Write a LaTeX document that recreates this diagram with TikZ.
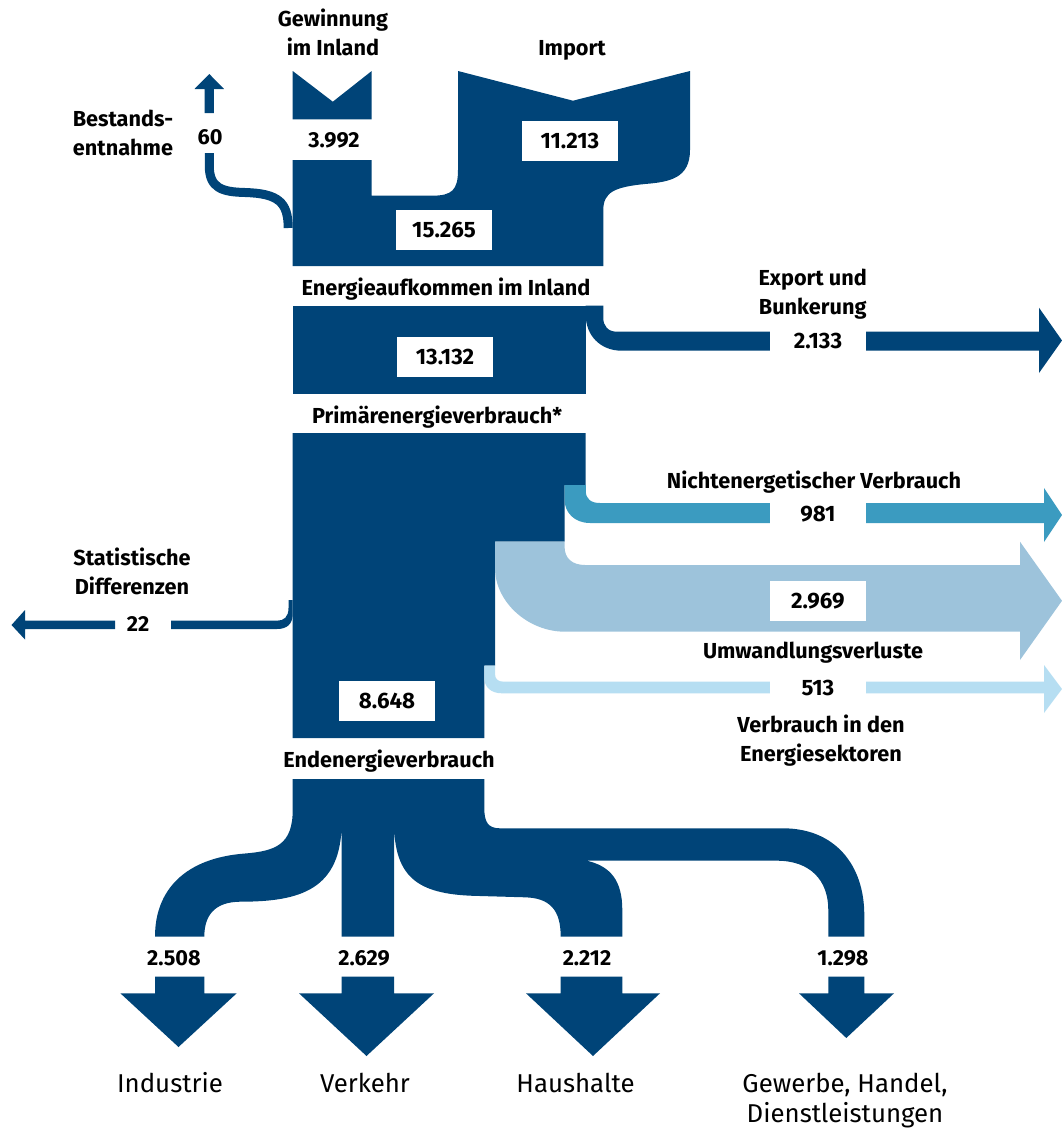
\documentclass[tikz,border=0pt]{standalone}
\usepackage{fontspec}
\setmainfont{Fira Sans}
\definecolor{cA}{RGB}{0,68,120}
\definecolor{cB}{RGB}{59,155,192}
\definecolor{cC}{RGB}{157,195,219}
\definecolor{cD}{RGB}{182,222,242}
\tikzset{
  lbl/.style={font=\bfseries\fontsize{21.7}{28.6}\selectfont, text=black, inner sep=0pt, align=center, anchor=base},
  valbox/.style={fill=white, minimum width=96pt, minimum height=40pt, inner sep=0pt, font=\bfseries\fontsize{22.3}{24}\selectfont},
  cat/.style={font=\fontsize{25.8}{30}\selectfont, text=black, inner sep=0pt, align=center, anchor=base},
}
\begin{document}
\begin{tikzpicture}[x=1pt,y=-1pt]
\useasboundingbox (0,0) rectangle (1062,1133);

% ---------- top: Gewinnung, Import, Energieaufkommen ----------
\fill[cA] (292.7,71) -- (332.8,101.7) -- (371.7,71) -- (371.7,119.3) -- (292.7,119.3) -- cycle;
\fill[cA] (292.7,160) -- (371.7,160) -- (371.7,195.7) -- (432,195.7)
  .. controls (452,195.7) and (458,190) .. (458,170) -- (458,71) -- (573,100.7) -- (690,71) -- (690,150)
  .. controls (690,178) and (670,182) .. (645,184)
  .. controls (615,187) and (603.3,192) .. (603.3,210) -- (603.3,266) -- (292.7,266) -- cycle;

% Bestandsentnahme (60)
\fill[cA] (204.7,113) -- (204.7,89) -- (194.5,89) -- (209.3,74) -- (224,89) -- (213.8,89) -- (213.8,113) -- cycle;
\draw[cA, line width=9pt] (209.3,153) -- (209.3,166) .. controls (209.3,188) and (222,192) .. (245,192.5)
  .. controls (278,193.5) and (288.2,202) .. (288.2,228);

% ---------- Primaerenergie block + Export ----------
\fill[cA] (292.7,305.7) rectangle (585.7,394);
\fill[cA] (585.7,305.7) -- (603.3,305.7) -- (603.3,318) .. controls (603.3,326) and (608,331.7) .. (617,331.7)
  -- (1039,331.7) -- (1039,307.7) -- (1062,340.5) -- (1039,373) -- (1039,350.7) -- (621.7,350.7)
  .. controls (600,350.7) and (585.7,335) .. (585.7,315) -- cycle;

% ---------- big block ----------
\fill[cA] (292.7,433) -- (585.7,433) -- (585.7,485) -- (564.6,485) -- (564.6,541.7) -- (495,541.7)
  -- (495,665.7) -- (484.3,665.7) -- (484.3,738) -- (292.7,738) -- cycle;

% Nichtenergetischer Verbrauch (981)
\fill[cB] (564.6,485) -- (585.8,485) -- (585.8,491) .. controls (585.8,499) and (591,503) .. (600,503)
  -- (1044,503) -- (1044,488) -- (1062,515) -- (1044,542) -- (1044,523) -- (590,523)
  .. controls (574,523) and (564.6,512) .. (564.6,500) -- cycle;

% Umwandlungsverluste (2.969)
\fill[cC] (495,541.7) -- (564.6,541.7) -- (564.6,547) .. controls (564.6,558) and (572,565) .. (585,565)
  -- (1020,565) -- (1020,541.7) -- (1062,600.8) -- (1020,660) -- (1020,631.7) -- (565,631.7)
  .. controls (528,631.7) and (495,602) .. (495,568) -- cycle;

% Verbrauch in den Energiesektoren (513)
\fill[cD] (484.3,665.7) -- (495,665.7) -- (495,674) .. controls (495,679) and (498,681.7) .. (504,681.7)
  -- (1044,681.7) -- (1044,665) -- (1062,689) -- (1044,713) -- (1044,693.3) -- (502,693.3)
  .. controls (491,693.3) and (484.3,687) .. (484.3,678) -- cycle;

% Statistische Differenzen (22)
\fill[cA] (292.7,600) -- (292.7,614) .. controls (292.7,624) and (287,629) .. (277,629) -- (171,629)
  -- (171,620.7) -- (277,620.7) .. controls (284,620.7) and (288.5,617) .. (288.5,608) -- (288.5,600) -- cycle;
\fill[cA] (115,620.7) -- (25,620.7) -- (25,610) -- (11.5,625) -- (25,639.5) -- (25,629) -- (115,629) -- cycle;

% ---------- Endenergieverbrauch block + branches ----------
\fill[cA] (292.7,779) -- (484.3,779) -- (484.3,808) .. controls (484.3,822) and (488,828.3) .. (500,828.3)
  -- (783,828.3) .. controls (835,828.3) and (864.3,865) .. (864.3,915) -- (864.3,936.7)
  -- (828.3,936.7) -- (828.3,910) .. controls (828.3,880) and (810,860.7) .. (777,860.7)
  -- (586.7,860.7) .. controls (610,866) and (622.3,880) .. (622.3,910) -- (622.3,936.7)
  -- (560.7,936.7) .. controls (560.7,910) and (550,898) .. (525,897.3) -- (480,896)
  .. controls (420,895) and (394,880) .. (394,821.7) -- (394,936.7) -- (341.7,936.7) -- (341.7,821.7)
  .. controls (341.7,890) and (300,901.7) .. (240,901.7)
  .. controls (215,902) and (204.3,915) .. (204.3,936.7) -- (155,936.7)
  .. controls (155,890) and (185,858) .. (245,853.5)
  .. controls (275,851) and (292.7,845) .. (292.7,810) -- cycle;

% bottom arrows
\fill[cA] (155,976.7) -- (204.3,976.7) -- (204.3,993.3) -- (236.7,993.3) -- (178.5,1047) -- (120.4,993.3) -- (155,993.3) -- cycle;
\fill[cA] (341.7,976.7) -- (394,976.7) -- (394,993.3) -- (434,993.3) -- (366.5,1056) -- (299,993.3) -- (341.7,993.3) -- cycle;
\fill[cA] (560.7,976.7) -- (622.3,976.7) -- (622.3,993.3) -- (660,993.3) -- (593,1056) -- (526,993.3) -- (560.7,993.3) -- cycle;
\fill[cA] (828.3,976.7) -- (864.3,976.7) -- (864.3,993.3) -- (894,993.3) -- (846.3,1038) -- (799,993.3) -- (828.3,993.3) -- cycle;

% ---------- value boxes ----------
\node[valbox] (v11213) at (570,141) {11.213\hspace{10pt}};
\node[valbox] (v15265) at (444,229.5) {15.265\hspace{10pt}};
\node[valbox] (v13132) at (445,357) {13.132\hspace{10pt}};
\node[valbox] (v2133) at (818,341) {2.133\hspace{10pt}};
\node[valbox] (v981) at (818,514) {981\hspace{6pt}};
\node[valbox] (v2969) at (817.8,601) {2.969\hspace{8pt}};
\node[valbox] (v513) at (818,688) {513\hspace{6pt}};
\node[valbox] (v8648) at (387,701) {8.648\hspace{8pt}};

% ---------- labels ----------
\node[lbl] (gew) at (333,55.5) {Gewinnung\\im Inland};
\node[lbl] (imp) at (572,55.5) {Import};
\node[lbl] (best) at (123,155.5) {Bestands-\\entnahme};
\node[lbl] (n60) at (210,144.5) {60};
\node[lbl] (n3992) at (334,147.5) {3.992};
\node[lbl] (eai) at (446,295.5) {Energieaufkommen im Inland};
\node[lbl] (exp) at (812.7,314) {Export und\\Bunkerung};
\node[lbl] (pev) at (437,423.5) {Primärenergieverbrauch*};
\node[lbl] (nev) at (814,488.5) {Nichtenergetischer Verbrauch};
\node[lbl] (sd) at (132,594.5) {Statistische\\Differenzen};
\node[lbl] (n22) at (138,631.5) {22};
\node[lbl] (uwv) at (813,658) {Umwandlungsverluste};
\node[lbl] (vie) at (821,761.5) {Verbrauch in den\\Energiesektoren};
\node[lbl] (eev) at (389,767.5) {Endenergieverbrauch};

\node[lbl] (n2508) at (174,965.5) {2.508};
\node[lbl] (n2629) at (364,965.5) {2.629};
\node[lbl] (n2212) at (587,965.5) {2.212};
\node[lbl] (n1298) at (843,965.5) {1.298};

\node[cat] (ind) at (170,1092) {Industrie};
\node[cat] (ver) at (365,1092) {Verkehr};
\node[cat] (hh) at (575.5,1092) {Haushalte};
\node[cat] (ghd) at (845,1122) {Gewerbe, Handel,\\Dienstleistungen};
\end{tikzpicture}
\end{document}
